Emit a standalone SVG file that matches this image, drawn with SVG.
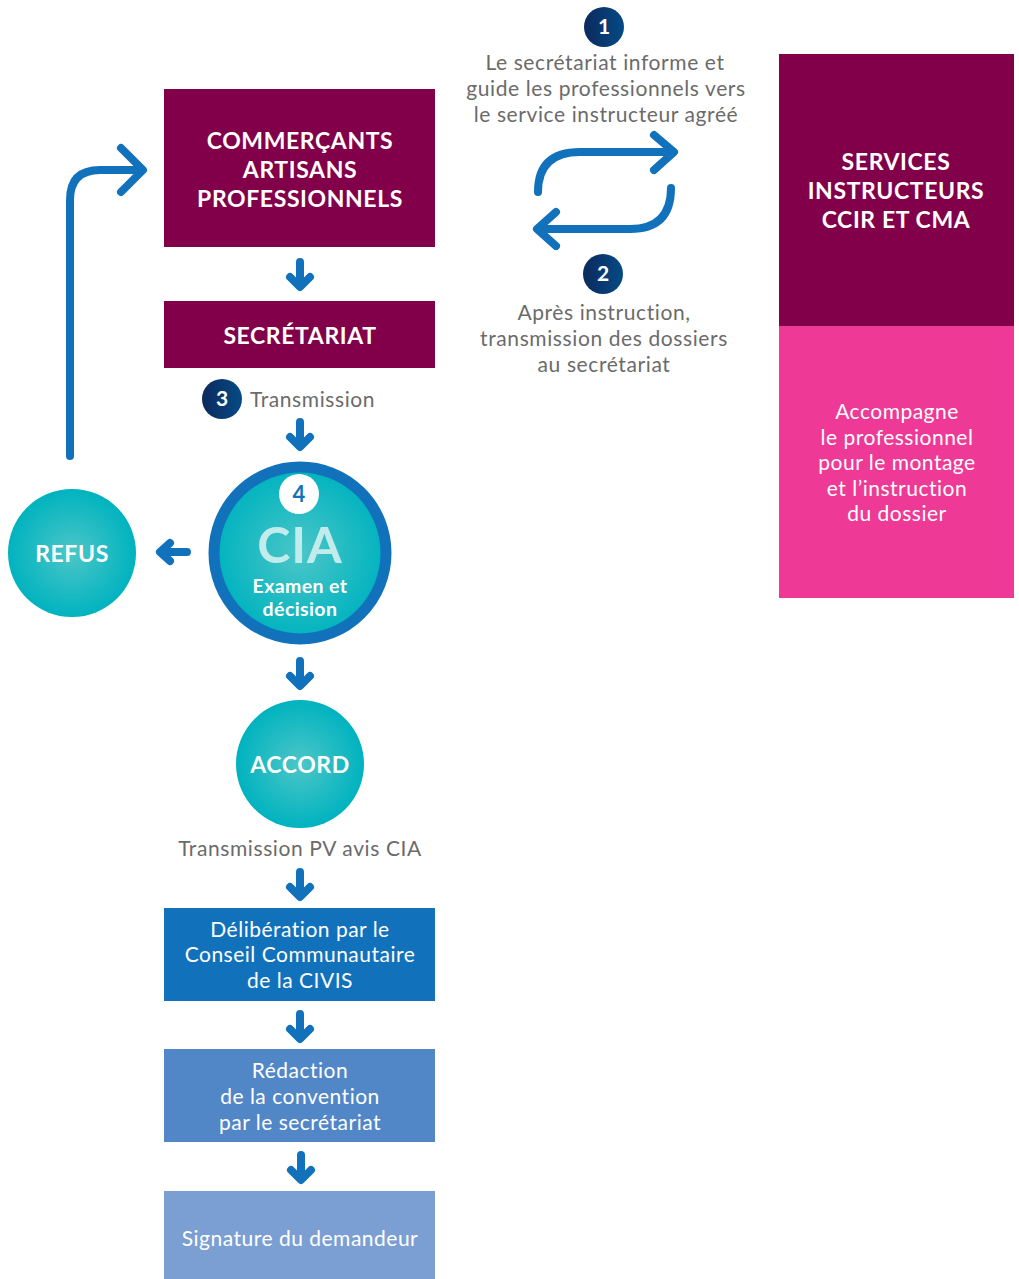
<svg xmlns="http://www.w3.org/2000/svg" width="1019" height="1279" viewBox="0 0 1019 1279">
<defs>
<radialGradient id="teal" cx="50%" cy="50%" r="50%">
<stop offset="0" stop-color="#4cc6c8"/>
<stop offset="1" stop-color="#00b3bf"/>
</radialGradient>
<linearGradient id="navy" x1="0" y1="0" x2="1" y2="0">
<stop offset="0" stop-color="#0c2a5c"/>
<stop offset="1" stop-color="#054a86"/>
</linearGradient>
<style>
.t{font-family:Lato,"Open Sans","Liberation Sans",sans-serif;}
.g{fill:#6b6b6b;font-size:21px;letter-spacing:0.6px;text-anchor:middle;}
.wb{fill:#ffffff;font-weight:bold;font-size:23px;letter-spacing:0.6px;text-anchor:middle;}
.w{fill:#ffffff;font-size:21px;letter-spacing:0.5px;text-anchor:middle;}
.num{fill:#ffffff;font-weight:bold;font-size:21px;text-anchor:middle;}
.conn{fill:none;stroke:#1172bb;stroke-width:8;stroke-linecap:round;stroke-linejoin:round;}
.sm{fill:none;stroke:#1172bb;stroke-width:8;stroke-linecap:round;stroke-linejoin:round;}
</style>
</defs>
<rect width="1019" height="1279" fill="#ffffff"/>

<g id="connectors">
<path class="conn" d="M70,456 V200 Q70,170 100,170 H142"/>
<path class="conn" d="M121,148 L143,170 L121,192"/>
<path class="conn" d="M538,192 Q538,152 580,152 H673"/>
<path class="conn" d="M654,135 L674,152 L654,170"/>
<path class="conn" d="M671,188 Q671,229 630,229 H538"/>
<path class="conn" d="M556,212 L537,229 L556,246"/>
<path class="sm" d="M300,262 V286 M290,277 L300,287 L310,277"/>
<path class="sm" d="M300,422 V446 M290,437 L300,447 L310,437"/>
<path class="sm" d="M187,552 H161 M170,543 L160,552 L170,561"/>
<path class="sm" d="M300,661 V685 M290,676 L300,686 L310,676"/>
<path class="sm" d="M300,872 V896 M290,887 L300,897 L310,887"/>
<path class="sm" d="M300,1014 V1038 M290,1029 L300,1039 L310,1029"/>
<path class="sm" d="M301,1155 V1179 M291,1170 L301,1180 L311,1170"/>
</g>

<g id="commercants">
<rect x="164" y="89" width="271" height="158" fill="#82004a"/>
<text class="t wb" x="300" y="149">COMMERÇANTS</text>
<text class="t wb" x="300" y="178">ARTISANS</text>
<text class="t wb" x="300" y="207">PROFESSIONNELS</text>
</g>

<g id="secretariat">
<rect x="164" y="301" width="271" height="67" fill="#82004a"/>
<text class="t wb" x="300" y="344">SECRÉTARIAT</text>
</g>

<g id="step3">
<circle cx="222" cy="399" r="20" fill="url(#navy)"/>
<text class="t num" x="222" y="406">3</text>
<text class="t g" x="250" y="407" style="text-anchor:start">Transmission</text>
</g>

<g id="cia">
<circle cx="300" cy="553" r="86" fill="url(#teal)" stroke="#1172bb" stroke-width="11"/>
<circle cx="299" cy="494" r="20" fill="#ffffff"/>
<text class="t" x="299" y="502" style="fill:#1172bb;font-weight:bold;font-size:22px;text-anchor:middle">4</text>
<text class="t" x="300" y="563" style="fill:#c2ebec;font-weight:bold;font-size:50px;letter-spacing:1px;text-anchor:middle">CIA</text>
<text class="t" x="300" y="593" style="fill:#ffffff;font-weight:bold;font-size:19.5px;letter-spacing:0.4px;text-anchor:middle">Examen et</text>
<text class="t" x="300" y="616" style="fill:#ffffff;font-weight:bold;font-size:19.5px;letter-spacing:0.4px;text-anchor:middle">décision</text>
</g>

<g id="refus">
<circle cx="72" cy="553" r="64" fill="url(#teal)"/>
<text class="t wb" x="72" y="562">REFUS</text>
</g>

<g id="accord">
<circle cx="300" cy="764" r="64" fill="url(#teal)"/>
<text class="t wb" x="300" y="773">ACCORD</text>
</g>

<g id="transmission-pv">
<text class="t g" x="300" y="856">Transmission PV avis CIA</text>
</g>

<g id="deliberation">
<rect x="164" y="908" width="271" height="93" fill="#1172bb"/>
<text class="t w" x="300" y="937">Délibération par le</text>
<text class="t w" x="300" y="962">Conseil Communautaire</text>
<text class="t w" x="300" y="988">de la CIVIS</text>
</g>

<g id="redaction">
<rect x="164" y="1049" width="271" height="93" fill="#5287c7"/>
<text class="t w" x="300" y="1078">Rédaction</text>
<text class="t w" x="300" y="1104">de la convention</text>
<text class="t w" x="300" y="1130">par le secrétariat</text>
</g>

<g id="signature">
<rect x="164" y="1191" width="271" height="88" fill="#7b9fd2"/>
<text class="t w" x="300" y="1246">Signature du demandeur</text>
</g>

<g id="step1">
<circle cx="604" cy="27" r="20" fill="url(#navy)"/>
<text class="t num" x="604" y="34">1</text>
<text class="t g" x="605" y="70">Le secrétariat informe et</text>
<text class="t g" x="606" y="96">guide les professionnels vers</text>
<text class="t g" x="606" y="122">le service instructeur agréé</text>
</g>

<g id="step2">
<circle cx="603" cy="274" r="20" fill="url(#navy)"/>
<text class="t num" x="603" y="281">2</text>
<text class="t g" x="604" y="320">Après instruction,</text>
<text class="t g" x="604" y="346">transmission des dossiers</text>
<text class="t g" x="604" y="372">au secrétariat</text>
</g>

<g id="services">
<rect x="779" y="54" width="235" height="272" fill="#82004a"/>
<text class="t wb" x="896" y="170">SERVICES</text>
<text class="t wb" x="896" y="199">INSTRUCTEURS</text>
<text class="t wb" x="896" y="228">CCIR ET CMA</text>
</g>

<g id="accompagne">
<rect x="779" y="326" width="235" height="272" fill="#ee3a96"/>
<text class="t w" x="897" y="419">Accompagne</text>
<text class="t w" x="897" y="445">le professionnel</text>
<text class="t w" x="897" y="470">pour le montage</text>
<text class="t w" x="897" y="496">et  l’instruction</text>
<text class="t w" x="897" y="521">du dossier</text>
</g>
</svg>
